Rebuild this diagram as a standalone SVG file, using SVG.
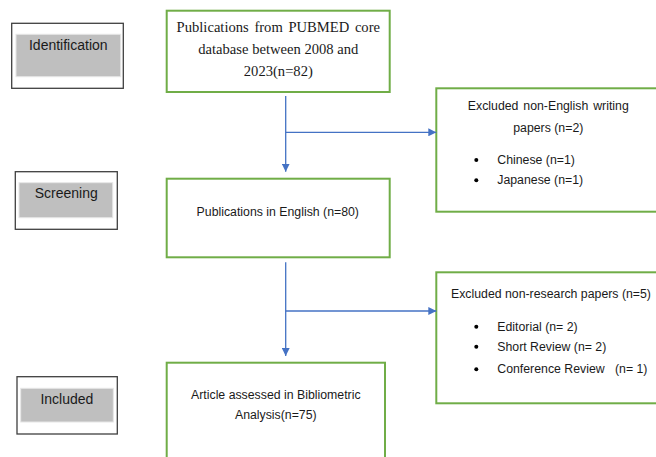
<svg xmlns="http://www.w3.org/2000/svg" width="656" height="457" viewBox="0 0 656 457">
<defs>
<marker id="ah" viewBox="0 0 10 10" refX="10" refY="5" markerWidth="8" markerHeight="8" markerUnits="userSpaceOnUse" orient="auto">
<path d="M0,0 L10,5 L0,10 Z" fill="#4472C4"/>
</marker>
<style>
.lab{fill:#fff;stroke:#3f3f3f;stroke-width:1.3}
.grey{fill:#bfbfbf;stroke:#e6e6e6;stroke-width:1}
.box{fill:#fff;stroke:#70AD47;stroke-width:2}
.con{fill:none;stroke:#4472C4;stroke-width:1.3}
.s{font-family:"Liberation Sans",Arial,sans-serif;font-size:12.3px;fill:#1a1a1a}
.st{font-family:"Liberation Sans",Arial,sans-serif;font-size:14px;fill:#1a1a1a;text-anchor:middle}
.sr{font-family:"Liberation Serif","Times New Roman",serif;font-size:14.6px;fill:#1a1a1a;text-anchor:middle}
.m{text-anchor:middle}
</style>
</defs>
<rect width="656" height="457" fill="#fff"/>

<g id="identification">
<rect class="lab" x="11.7" y="23.3" width="111.6" height="65"/>
<rect class="grey" x="16" y="34.3" width="104.7" height="42.4"/>
<text class="st" x="68.3" y="50">Identification</text>
</g>
<g id="screening">
<rect class="lab" x="15.3" y="171.7" width="102" height="57.6"/>
<rect class="grey" x="19" y="182.7" width="93.7" height="35"/>
<text class="st" x="66.2" y="198">Screening</text>
</g>
<g id="included">
<rect class="lab" x="17" y="376.7" width="100.3" height="57.3"/>
<rect class="grey" x="20.7" y="388.3" width="92.6" height="33.7"/>
<text class="st" x="66.9" y="404">Included</text>
</g>

<g id="pubmed">
<rect class="box" x="166.7" y="10.7" width="223" height="81.3"/>
<text class="sr" x="278.3" y="32.3" word-spacing="2">Publications from PUBMED core</text>
<text class="sr" x="278.3" y="54">database between 2008 and</text>
<text class="sr" x="278.3" y="75.7">2023(n=82)</text>
</g>
<g id="english">
<rect class="box" x="166.7" y="178.7" width="223" height="78.6"/>
<text class="s m" x="277.8" y="216">Publications in English (n=80)</text>
</g>
<g id="assessed">
<rect class="box" x="166.7" y="362.7" width="218.3" height="110"/>
<text class="s m" x="275.8" y="399.3">Article assessed in Bibliometric</text>
<text class="s m" x="275.8" y="419.3">Analysis(n=75)</text>
</g>
<g id="excluded-language">
<rect class="box" x="436.3" y="88.3" width="240" height="123.4"/>
<text class="s m" x="548.3" y="110" word-spacing="1.5">Excluded non-English writing</text>
<text class="s m" x="548.3" y="131.7">papers (n=2)</text>
<circle cx="476.3" cy="160" r="2"/>
<text class="s" x="497.3" y="164">Chinese (n=1)</text>
<circle cx="476.3" cy="180.3" r="2"/>
<text class="s" x="497.3" y="184.3">Japanese (n=1)</text>
</g>
<g id="excluded-type">
<rect class="box" x="436.3" y="272.3" width="240" height="131"/>
<text class="s" x="451" y="297.7">Excluded non-research papers (n=5)</text>
<circle cx="476.3" cy="326.7" r="2"/>
<text class="s" x="497.3" y="330.7">Editorial (n= 2)</text>
<circle cx="476.3" cy="346.7" r="2"/>
<text class="s" x="497.3" y="350.7">Short Review (n= 2)</text>
<circle cx="476.3" cy="369.3" r="2"/>
<text class="s" x="497.3" y="373.3">Conference Review<tspan x="615">(n= 1)</tspan></text>
</g>

<g id="connectors">
<path class="con" d="M285.7,96 V171.7" marker-end="url(#ah)"/>
<path class="con" d="M285.7,132.3 H436.3" marker-end="url(#ah)"/>
<path class="con" d="M285.7,262.3 V356" marker-end="url(#ah)"/>
<path class="con" d="M285.7,311 H436.3" marker-end="url(#ah)"/>
</g>
</svg>
